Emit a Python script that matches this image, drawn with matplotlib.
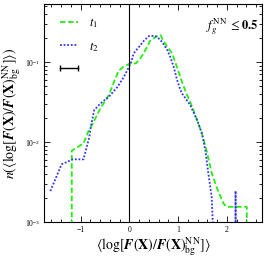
import matplotlib
matplotlib.use("Agg")
from matplotlib import pyplot as plt
from matplotlib.lines import Line2D
from matplotlib.ticker import MultipleLocator, LogLocator, NullFormatter
import numpy as np

plt.rcParams['font.family'] = 'serif'
plt.rcParams['font.serif'] = ['Liberation Serif', 'DejaVu Serif']
plt.rcParams['mathtext.fontset'] = 'stix'

# t1 (green dashed); values below 1e-3 mean empty bins
t1_x = [-1.18, -1.18, -0.94, -0.83, -0.79, -0.59, -0.42, -0.30, -0.22, -0.12, -0.01,
        0.13, 0.19, 0.27, 0.33, 0.43, 0.54, 0.64, 0.69, 0.78, 0.88, 0.94, 1.01, 1.08,
        1.17, 1.29, 1.39, 1.49, 1.59, 1.69, 1.80, 1.93, 2.00, 2.41, 2.41]
t1_y = [1e-4, 0.0078, 0.0096, 0.0141, 0.0153, 0.0266, 0.0387, 0.0596, 0.0778, 0.0873, 0.0944,
        0.0963, 0.104, 0.122, 0.141, 0.185, 0.207, 0.218, 0.188, 0.155, 0.128, 0.101, 0.0756, 0.0567,
        0.0406, 0.0276, 0.0188, 0.0128, 0.0076, 0.0041, 0.00264, 0.00171, 0.00155, 0.00155, 1e-4]

# t2 (blue dotted)
t2_x = [-1.62, -1.39, -1.16, -0.94, -0.82, -0.79, -0.72, -0.59, -0.42, -0.24, -0.11,
        0.03, 0.09, 0.20, 0.30, 0.40, 0.50, 0.57, 0.67, 0.78, 0.84, 0.91, 0.98, 1.05,
        1.08, 1.25, 1.39, 1.49, 1.56, 1.62, 1.69, 1.78, 2.18, 2.18, 2.18]
t2_y = [0.00244, 0.00526, 0.00608, 0.00608, 0.0116, 0.0155, 0.0251, 0.0305, 0.0368, 0.0491, 0.0655,
        0.0963, 0.1285, 0.155, 0.185, 0.211, 0.213, 0.207, 0.179, 0.141, 0.116, 0.0873, 0.0596, 0.0447,
        0.0406, 0.029, 0.0188, 0.0128, 0.0079, 0.0041, 0.00207, 1e-4, 1e-5, 0.00245, 1e-5]

green = '#22ee11'
blue = '#3333ee'

fig = plt.figure(figsize=(2.7, 2.57), dpi=100)
ax = fig.add_axes([0.163, 0.136, 0.807, 0.848])

l1, = ax.plot(t1_x, t1_y, color=green, ls=(0, (3, 1.5)), lw=1.3, label='$t_1$')
l2, = ax.plot(t2_x, t2_y, color=blue, ls=(0, (1, 1)), lw=1.3, label='$t_2$')
ax.axvline(0, color='k', lw=0.8)

ax.set_yscale('log')
ax.set_xlim(-1.75, 2.72)
ax.set_ylim(1e-3, 0.53)

ax.xaxis.set_major_locator(MultipleLocator(1))
ax.xaxis.set_minor_locator(MultipleLocator(0.2))
ax.yaxis.set_major_locator(LogLocator(base=10))
ax.yaxis.set_minor_locator(LogLocator(base=10, subs=np.arange(2, 10)))
ax.yaxis.set_minor_formatter(NullFormatter())
ax.tick_params(which='both', direction='in', top=True, right=True, labelsize=5.5, pad=3)
ax.tick_params(which='major', length=4, width=0.6)
ax.tick_params(which='minor', length=2, width=0.6)
for s in ax.spines.values():
    s.set_linewidth(0.8)

scale_bar = Line2D([], [], color='k', lw=1, marker='|', ms=5, mew=1)
ax.legend(handles=[l1, l2, scale_bar], labels=['$t_1$', '$t_2$', ''], loc='upper left',
          frameon=False, fontsize=9, numpoints=2, handlelength=2.0, borderaxespad=0.6,
          labelspacing=0.75, handletextpad=0.6)

ax.text(0.985, 0.945, r'$f_g^{\rm NN}\ \leq \mathbf{0.5}$', transform=ax.transAxes,
        ha='right', va='top', fontsize=9)

ax.set_xlabel(r'$\langle \log[\mathbfit{F}(\mathbf{X})/\mathbfit{F}(\mathbf{X})^{\rm NN}_{\rm bg}]\rangle$',
              fontsize=10, labelpad=1)
ax.set_ylabel(r'$n(\langle \log[\mathbfit{F}(\mathbf{X})/\mathbfit{F}(\mathbf{X})^{\rm NN}_{\rm bg}]\rangle)$',
              fontsize=10, labelpad=1)

fig.savefig('out.png', dpi=100)
